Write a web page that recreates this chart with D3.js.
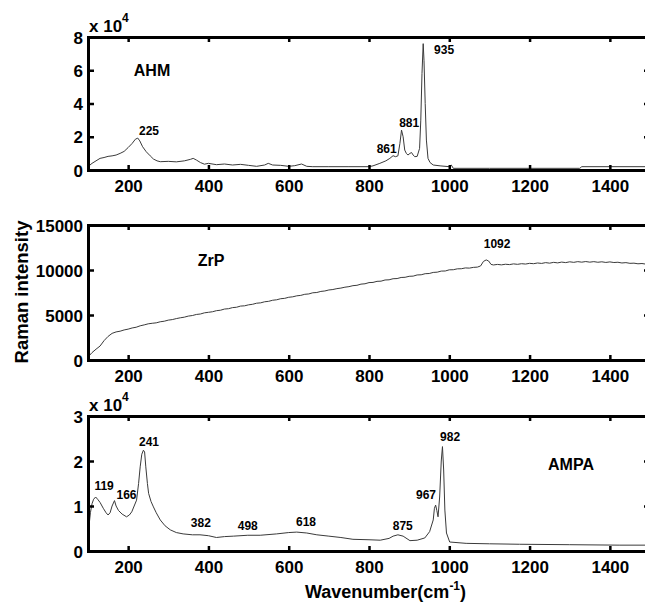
<!DOCTYPE html>
<html><head><meta charset="utf-8">
<script src="https://cdn.jsdelivr.net/npm/d3@7/dist/d3.min.js"></script>
<style>
body{margin:0;background:#fff;}
svg text{font-family:"Liberation Sans",Arial,Helvetica,sans-serif;font-weight:bold;fill:#000;}
</style></head>
<body><svg id="c" width="645" height="604"></svg>
<script>
// ---- data ----
const xTicks = [200,400,600,800,1000,1200,1400];
const ahmTicks = [0,2,4,6,8];          // x 10^4
const zrpTicks = [0,5000,10000,15000];
const ampaTicks = [0,1,2,3];           // x 10^4

// AHM spectrum: [wavenumber, intensity (x10^4)]
const ahm = [[100,0.2],[110,0.4],[120,0.55],[130,0.7],[140,0.75],[150,0.82],[160,0.85],[170,0.9],[180,1.0],[190,1.12],[200,1.35],[210,1.6],[218,1.85],[224,1.92],[229,1.75],[236,1.4],[245,1.1],[255,0.85],[263,0.66],[272,0.55],[280,0.5],[300,0.52],[320,0.49],[340,0.55],[355,0.64],[362,0.7],[370,0.6],[380,0.45],[390,0.35],[400,0.4],[420,0.32],[440,0.36],[460,0.3],[480,0.34],[500,0.28],[520,0.22],[540,0.3],[549,0.4],[560,0.3],[580,0.28],[600,0.22],[615,0.26],[632,0.36],[645,0.22],[660,0.2],[700,0.2],[750,0.2],[800,0.2],[810,0.25],[827,0.4],[842,0.55],[852,0.7],[860,0.86],[866,0.8],[872,0.85],[877,1.6],[881,2.4],[885,2.0],[889,1.2],[893,1.0],[897,0.9],[902,1.0],[906,1.05],[910,0.9],[914,0.8],[920,0.82],[926,1.3],[929,3.0],[932,5.8],[935,7.6],[937,6.6],[940,4.0],[943,1.8],[947,0.7],[952,0.45],[960,0.3],[977,0.25],[1000,0.2],[1005,0.3],[1010,0.1],[1100,0.1],[1200,0.1],[1325,0.1],[1330,0.2],[1500,0.2]];

// ZrP spectrum: [wavenumber, intensity]
const zrp = [[100,330],[110,820],[120,1200],[130,1550],[140,2150],[150,2620],[160,2960],[170,3120],[180,3200],[190,3340],[200,3430],[210,3560],[220,3640],[230,3800],[240,3900],[250,4020],[260,4080],[270,4130],[280,4250],[290,4310],[300,4430],[310,4490],[320,4600],[330,4690],[340,4760],[350,4880],[360,4940],[370,5060],[380,5110],[390,5240],[400,5300],[410,5360],[420,5480],[430,5530],[440,5660],[450,5700],[460,5820],[470,5860],[480,5990],[490,6020],[500,6130],[510,6190],[520,6310],[530,6350],[540,6470],[550,6520],[560,6640],[570,6690],[580,6810],[590,6850],[600,6970],[610,7020],[620,7130],[630,7180],[640,7300],[650,7340],[660,7470],[670,7500],[680,7620],[690,7670],[700,7780],[710,7830],[720,7930],[730,7990],[740,8090],[750,8150],[760,8260],[770,8300],[780,8430],[790,8470],[800,8600],[810,8620],[820,8740],[830,8760],[840,8890],[850,8910],[860,9030],[870,9050],[880,9170],[890,9190],[900,9300],[910,9320],[920,9450],[930,9470],[940,9590],[950,9610],[960,9730],[970,9760],[980,9880],[990,9890],[1000,10020],[1010,10030],[1020,10130],[1030,10140],[1040,10230],[1050,10210],[1060,10290],[1070,10320],[1078,10450],[1085,10950],[1092,11120],[1098,11000],[1104,10620],[1110,10560],[1120,10620],[1130,10570],[1140,10640],[1150,10600],[1160,10680],[1170,10630],[1180,10700],[1190,10660],[1200,10740],[1210,10700],[1220,10780],[1230,10730],[1240,10820],[1250,10760],[1260,10850],[1270,10790],[1280,10880],[1290,10820],[1300,10910],[1310,10850],[1320,10930],[1330,10870],[1340,10940],[1350,10870],[1360,10930],[1370,10860],[1380,10910],[1390,10840],[1400,10900],[1410,10830],[1420,10860],[1430,10780],[1440,10820],[1450,10740],[1460,10760],[1470,10690],[1480,10720],[1490,10650],[1500,10680]];

// AMPA spectrum: [wavenumber, intensity (x10^4)]
const ampa = [[100,0.3],[103,0.6],[106,0.85],[110,1.05],[114,1.15],[119,1.2],[124,1.15],[130,1.08],[138,0.95],[145,0.85],[150,0.8],[155,0.85],[160,1.0],[166,1.12],[170,1.0],[176,0.9],[185,0.82],[196,0.76],[203,0.8],[209,0.87],[215,1.0],[221,1.13],[226,1.5],[230,1.87],[234,2.15],[238,2.24],[241,2.2],[244,1.87],[248,1.5],[251,1.28],[257,1.1],[263,0.98],[270,0.85],[280,0.69],[292,0.56],[305,0.47],[320,0.41],[337,0.38],[360,0.36],[379,0.36],[400,0.34],[420,0.3],[440,0.32],[462,0.33],[498,0.35],[529,0.35],[570,0.38],[600,0.41],[620,0.42],[645,0.4],[670,0.36],[700,0.33],[730,0.3],[760,0.26],[800,0.25],[828,0.24],[850,0.28],[860,0.33],[872,0.36],[885,0.33],[902,0.23],[920,0.24],[939,0.29],[951,0.43],[960,0.69],[963,0.95],[966,1.02],[969,0.9],[972,0.76],[976,1.2],[980,2.0],[983,2.32],[986,1.8],[989,0.91],[993,0.4],[1001,0.2],[1042,0.17],[1100,0.16],[1175,0.15],[1300,0.14],[1425,0.13],[1500,0.13]];

// peak annotations: [label, wavenumber position of text, intensity at text baseline]
const ahmLabels = [["225",252,2.09],["861",844,1.0],["881",900,2.59],["935",987,7.0]];
const zrpLabels = [["1092",1119,12410]];
const ampaLabels = [["119",140,1.36],["166",196,1.15],["241",252,2.33],["382",381,0.53],["498",498,0.47],["618",643,0.56],["875",884,0.47],["967",942,1.15],["982",1002,2.44]];

// ---- drawing ----
const svg = d3.select("#c");
const x = d3.scaleLinear().domain([100,1500]).range([88,650]);

function panel(cfg){
  const y = d3.scaleLinear().domain(cfg.domain).range([cfg.bottom, cfg.top]);
  const g = svg.append("g");
  g.append("path").datum(cfg.data)
    .attr("fill","none").attr("stroke","#3a3a3a").attr("stroke-width",1)
    .attr("d", d3.line().x(d=>x(d[0])).y(d=>y(d[1])));
  const ax = [
    g.append("g").attr("transform",`translate(0,${cfg.bottom})`)
      .call(d3.axisBottom(x).tickValues(xTicks).tickSize(-5).tickSizeOuter(0).tickPadding(10).tickFormat(d3.format("d"))),
    g.append("g").attr("transform",`translate(0,${cfg.top})`)
      .call(d3.axisTop(x).tickValues(xTicks).tickSize(-5).tickSizeOuter(0).tickFormat("")),
    g.append("g").attr("transform",`translate(88,0)`)
      .call(d3.axisLeft(y).tickValues(cfg.ticks).tickSize(-6).tickSizeOuter(0).tickPadding(5).tickFormat(d3.format("d"))),
    g.append("g").attr("transform",`translate(650,0)`)
      .call(d3.axisRight(y).tickValues(cfg.ticks).tickSize(-6).tickSizeOuter(0).tickFormat(""))
  ];
  ax.forEach(a=>{
    a.select(".domain").attr("stroke","#000").attr("stroke-width",3).attr("stroke-linecap","square");
    a.selectAll(".tick line").attr("stroke","#000").attr("stroke-width",2.5);
    a.selectAll(".tick text").attr("font-size",17).attr("font-family",null).attr("fill","#000");
  });
  ax[2].selectAll(".tick text").attr("dy","0.36em");
  cfg.labels.forEach(l=>{
    g.append("text").attr("x",x(l[1])).attr("y",y(l[2])).attr("text-anchor","middle")
      .attr("font-size",12).text(l[0]);
  });
  g.append("text").attr("x",cfg.name[1]).attr("y",cfg.name[2]).attr("text-anchor","middle")
    .attr("font-size",16).text(cfg.name[0]);
  if(cfg.exp){
    const t = g.append("text").attr("x",89).attr("y",cfg.top-5).attr("font-size",17);
    t.append("tspan").text("x 10");
    t.append("tspan").attr("dy",-10).attr("font-size",12).text("4");
  }
}

panel({data:ahm, domain:[0,8], ticks:ahmTicks, top:37, bottom:170, labels:ahmLabels, name:["AHM",152,76], exp:true});
panel({data:zrp, domain:[0,15000], ticks:zrpTicks, top:225, bottom:360, labels:zrpLabels, name:["ZrP",211,266], exp:false});
panel({data:ampa, domain:[0,3], ticks:ampaTicks, top:416, bottom:551, labels:ampaLabels, name:["AMPA",571,470], exp:true});

svg.append("text").attr("transform","translate(28,292) rotate(-90)").attr("text-anchor","middle")
  .attr("font-size",18.5).text("Raman intensity");
const xt = svg.append("text").attr("x",305).attr("y",598).attr("font-size",18);
xt.append("tspan").text("Wavenumber(cm");
xt.append("tspan").attr("dy",-8).attr("font-size",12).text("-1");
xt.append("tspan").attr("dy",8).text(")");
</script></body></html>
